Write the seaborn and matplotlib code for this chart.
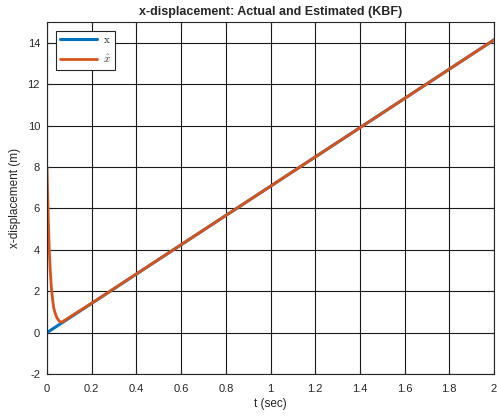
import matplotlib
matplotlib.use("Agg")
import matplotlib.pyplot as plt
import seaborn as sns
import pandas as pd

# Data
act_t = [0.0, 0.5, 1.0, 1.5, 2.0]
act_x = [0.0, 3.535, 7.07, 10.605, 14.14]

est_t = [0.0, 0.003, 0.006, 0.01, 0.015, 0.02, 0.025, 0.03, 0.036, 0.045,
         0.055, 0.065, 0.08, 0.1, 0.15, 0.2, 0.5, 1.0, 1.5, 2.0]
est_x = [8.0, 6.6, 5.4, 4.0, 2.9, 2.1, 1.6, 1.2, 0.95, 0.7,
         0.55, 0.5, 0.6, 0.74, 1.08, 1.42, 3.54, 7.07, 10.6, 14.14]

x_ticks = [0, 0.2, 0.4, 0.6, 0.8, 1, 1.2, 1.4, 1.6, 1.8, 2]
x_tick_labels = ["0", "0.2", "0.4", "0.6", "0.8", "1", "1.2", "1.4", "1.6", "1.8", "2"]
y_ticks = [-2, 0, 2, 4, 6, 8, 10, 12, 14]

sns.set_style("white")
plt.rcParams['font.family'] = ['Liberation Sans', 'DejaVu Sans']
plt.rcParams['mathtext.fontset'] = 'cm'
plt.rcParams['axes.unicode_minus'] = False

df_act = pd.DataFrame({"t": act_t, "x": act_x})
df_est = pd.DataFrame({"t": est_t, "x": est_x})

fig = plt.figure(figsize=(4.97, 4.2), dpi=100)
ax = fig.add_axes([0.0946, 0.1095, 0.8994, 0.838])

sns.lineplot(data=df_act, x="t", y="x", ax=ax, color="#0072BD", linewidth=2.2,
             label=r"$\mathrm{x}$", sort=False)
sns.lineplot(data=df_est, x="t", y="x", ax=ax, color="#D95319", linewidth=2,
             label=r"$\hat{x}$", sort=False)

ax.set_xlim(0, 2)
ax.set_ylim(-2, 15)
ax.set_xticks(x_ticks)
ax.set_xticklabels(x_tick_labels)
ax.set_yticks(y_ticks)
ax.grid(True, color="black", linewidth=0.8, alpha=0.9)
ax.set_axisbelow(True)
for s in ax.spines.values():
    s.set_color("#262626")
    s.set_linewidth(0.8)
ax.tick_params(axis="x", pad=7)
ax.tick_params(axis="y", pad=5)
ax.tick_params(axis="both", labelsize=8, colors="#262626", length=3,
               direction="in", top=True, right=True, bottom=True, left=True)
ax.set_xlabel("t (sec)", fontsize=8.5, color="#262626", labelpad=3)
ax.set_ylabel("x-displacement (m)", fontsize=8.5, color="#262626", labelpad=5)
ax.set_title("x-displacement: Actual and Estimated (KBF)", fontsize=9,
             fontweight="bold", pad=5)

leg = ax.legend(loc="upper left", fontsize=8, frameon=True, fancybox=False,
                edgecolor="#262626", framealpha=1, handlelength=3.3,
                borderaxespad=0.8, labelspacing=0.7, borderpad=0.4,
                handletextpad=0.5)
leg.get_frame().set_linewidth(0.8)

fig.savefig("out.png", dpi=100)
